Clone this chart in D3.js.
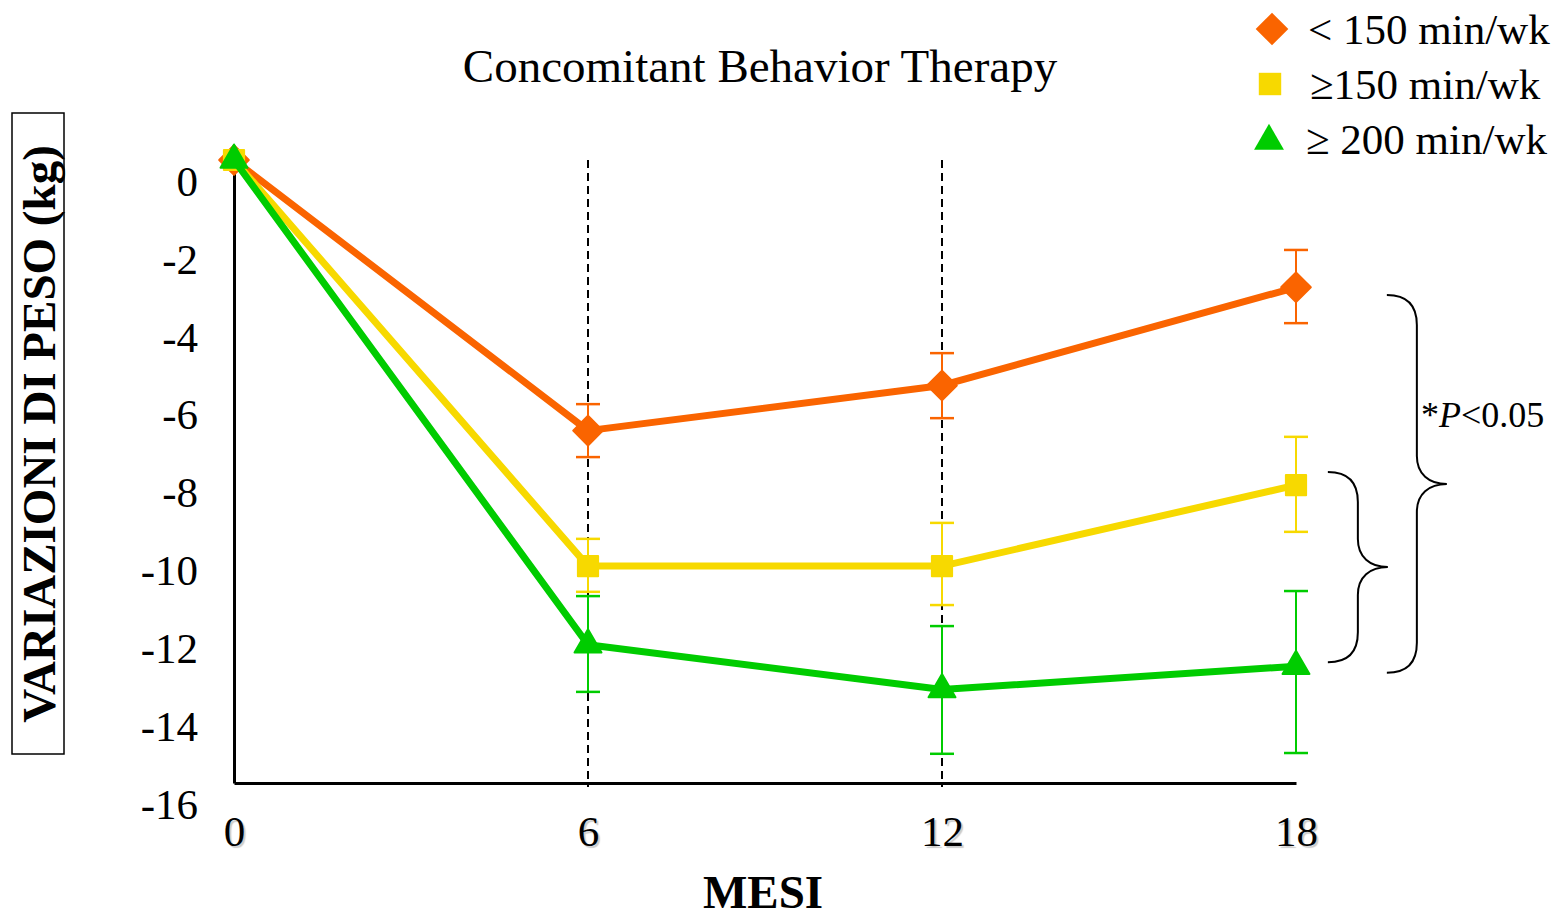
<!DOCTYPE html>
<html>
<head>
<meta charset="utf-8">
<script src="https://cdn.jsdelivr.net/npm/d3@7"></script>
<style>
  body { margin: 0; background: #fff; }
  svg text { font-family: "Liberation Serif", "Times New Roman", serif; fill: #000; }
</style>
</head>
<body>
<svg id="chart" width="1564" height="915"></svg>
<script>
// months on the x axis
const months = [0, 6, 12, 18];
const yTicks = [0, -2, -4, -6, -8, -10, -12, -14, -16];

// weight change (kg) per group, with error bar ends
const lowActivity = [0, -6.95, -5.79, -3.27];
const lowActivityTop = [null, -6.27, -4.96, -2.31];
const lowActivityBot = [null, -7.63, -6.63, -4.19];

const midActivity = [0, -10.43, -10.43, -8.35];
const midActivityTop = [null, -9.73, -9.32, -7.11];
const midActivityBot = [null, -11.09, -11.43, -9.55];

const highActivity = [0, -12.45, -13.6, -13.0];
const highActivityTop = [null, -11.2, -11.97, -11.07];
const highActivityBot = [null, -13.66, -15.25, -15.23];

const seriesNames = ['< 150 min/wk', '\u2265150 min/wk', '\u2265 200 min/wk'];
const seriesColors = ['#fa6400', '#f7d900', '#00cc00'];
const seriesSymbols = [d3.symbolDiamond2, d3.symbolSquare2, d3.symbolTriangle2];

// significance braces in data units: [x month, y start, y end]
const braceLabel = '*P<0.05';
const braces = [
    {x: 19.54, from: -3.47, to: -13.17},
    {x: 18.54, from: -8.01, to: -12.9}
];

const svg = d3.select('#chart');

const x = d3.scaleLinear().domain([0, 18]).range([234, 1296]);
const y = d3.scaleLinear().domain([0, -16]).range([160, 783]);

const series = [
    {values: lowActivity, top: lowActivityTop, bot: lowActivityBot},
    {values: midActivity, top: midActivityTop, bot: midActivityBot},
    {values: highActivity, top: highActivityTop, bot: highActivityBot}
].map((s, i) => Object.assign(s, {name: seriesNames[i], color: seriesColors[i], symbol: seriesSymbols[i]}));

// title
svg.append('text')
    .attr('x', 760).attr('y', 82)
    .attr('text-anchor', 'middle')
    .style('font-size', '47px')
    .text('Concomitant Behavior Therapy');

// y axis label in a box
const yLab = svg.append('g').attr('transform', 'translate(38, 434) rotate(-90)');
yLab.append('rect')
    .attr('x', -320).attr('y', -26)
    .attr('width', 641).attr('height', 52)
    .attr('fill', 'none').attr('stroke', '#000').attr('stroke-width', 1.5);
yLab.append('text')
    .attr('text-anchor', 'middle')
    .attr('dy', '0.36em')
    .style('font-size', '47px')
    .style('font-weight', 'bold')
    .text('VARIAZIONI DI PESO (kg)');

// x axis label
svg.append('text')
    .attr('x', 763).attr('y', 908)
    .attr('text-anchor', 'middle')
    .style('font-size', '47px')
    .style('font-weight', 'bold')
    .text('MESI');

// dashed guides at 6 and 12 months
svg.append('g')
    .selectAll('line')
    .data([6, 12])
    .join('line')
    .attr('x1', d => x(d)).attr('x2', d => x(d))
    .attr('y1', y(0)).attr('y2', y(-16) + 4)
    .attr('stroke', '#000').attr('stroke-width', 2)
    .attr('stroke-dasharray', '8,5');

// y axis
const yAxis = svg.append('g')
    .attr('transform', `translate(${x(0)},0)`)
    .call(d3.axisLeft(y).tickValues(yTicks).tickSize(0).tickPadding(36).tickFormat(d => d));
yAxis.select('.domain').attr('stroke-width', 3);
yAxis.selectAll('text')
    .attr('dy', '0.82em')
    .style('font-size', '43px')
    .style('font-family', '"Liberation Serif", serif');

// x axis
const xAxis = svg.append('g')
    .attr('transform', `translate(0,${y(-16)})`)
    .call(d3.axisBottom(x).tickValues(months).tickSize(0).tickPadding(32));
xAxis.select('.domain').attr('stroke-width', 3);
xAxis.selectAll('text')
    .style('font-size', '43px')
    .style('font-family', '"Liberation Serif", serif')
    .style('text-shadow', '2px 2px 1px #ccc');

// lines
const line = d3.line()
    .x((d, i) => x(months[i]))
    .y(d => y(d));

const groups = svg.selectAll('g.series')
    .data(series)
    .join('g')
    .attr('class', 'series');

groups.append('path')
    .attr('d', d => line(d.values))
    .attr('fill', 'none')
    .attr('stroke', d => d.color)
    .attr('stroke-width', 7)
    .attr('stroke-linejoin', 'round');

// error bars
groups.each(function(s) {
    const g = d3.select(this);
    const bars = months.map((m, i) => ({m, top: s.top[i], bot: s.bot[i]})).filter(d => d.top !== null);
    g.selectAll('line.err')
        .data(bars)
        .join('line')
        .attr('class', 'err')
        .attr('x1', d => x(d.m)).attr('x2', d => x(d.m))
        .attr('y1', d => y(d.top)).attr('y2', d => y(d.bot))
        .attr('stroke', s.color).attr('stroke-width', 2);
    ['top', 'bot'].forEach(k => {
        g.selectAll('line.cap-' + k)
            .data(bars)
            .join('line')
            .attr('class', 'cap-' + k)
            .attr('x1', d => x(d.m) - 12).attr('x2', d => x(d.m) + 12)
            .attr('y1', d => y(d[k])).attr('y2', d => y(d[k]))
            .attr('stroke', s.color).attr('stroke-width', 2.5);
    });
    g.selectAll('path.pt')
        .data(s.values)
        .join('path')
        .attr('class', 'pt')
        .attr('transform', (d, i) => `translate(${x(months[i])},${y(d)})`)
        .attr('d', d3.symbol().type(s.symbol).size(s.symbol === d3.symbolDiamond2 ? 560 : 520))
        .attr('fill', s.color)
        .attr('stroke', s.color)
        .attr('stroke-width', 2)
        .attr('stroke-linejoin', 'round');
});

// braces
function bracePath(b) {
    const x0 = x(b.x), x1 = x0 + 30, x2 = x0 + 60;
    const y0 = y(b.from), y1 = y(b.to), ym = (y0 + y1) / 2;
    return `M${x0},${y0} C${x0 + 20},${y0} ${x1},${y0 + 10} ${x1},${y0 + 30}` +
        ` L${x1},${ym - 28} C${x1},${ym - 10} ${x1 + 12},${ym} ${x2},${ym}` +
        ` C${x1 + 12},${ym} ${x1},${ym + 10} ${x1},${ym + 28}` +
        ` L${x1},${y1 - 30} C${x1},${y1 - 10} ${x0 + 20},${y1} ${x0},${y1}`;
}
svg.append('g')
    .selectAll('path')
    .data(braces)
    .join('path')
    .attr('d', bracePath)
    .attr('fill', 'none')
    .attr('stroke', '#000')
    .attr('stroke-width', 2);

const pText = svg.append('text')
    .attr('x', 1421).attr('y', 427)
    .style('font-size', '36px');
pText.append('tspan').text('*');
pText.append('tspan').style('font-style', 'italic').text('P');
pText.append('tspan').text('<0.05');

// legend
const legend = svg.append('g')
    .selectAll('g')
    .data(series)
    .join('g')
    .attr('transform', (d, i) => `translate(1272,${29 + i * 55})`);
legend.append('path')
    .attr('d', d => d3.symbol().type(d.symbol).size(d.symbol === d3.symbolDiamond2 ? 680 : 640)())
    .attr('transform', (d, i) => i === 2 ? 'translate(-3,2)' : (i === 1 ? 'translate(-2,0)' : ''))
    .attr('fill', d => d.color);
legend.append('text')
    .attr('x', (d, i) => [36, 38, 34][i])
    .attr('dy', '0.35em')
    .style('font-size', '43px')
    .text(d => d.name);
</script>
</body>
</html>
